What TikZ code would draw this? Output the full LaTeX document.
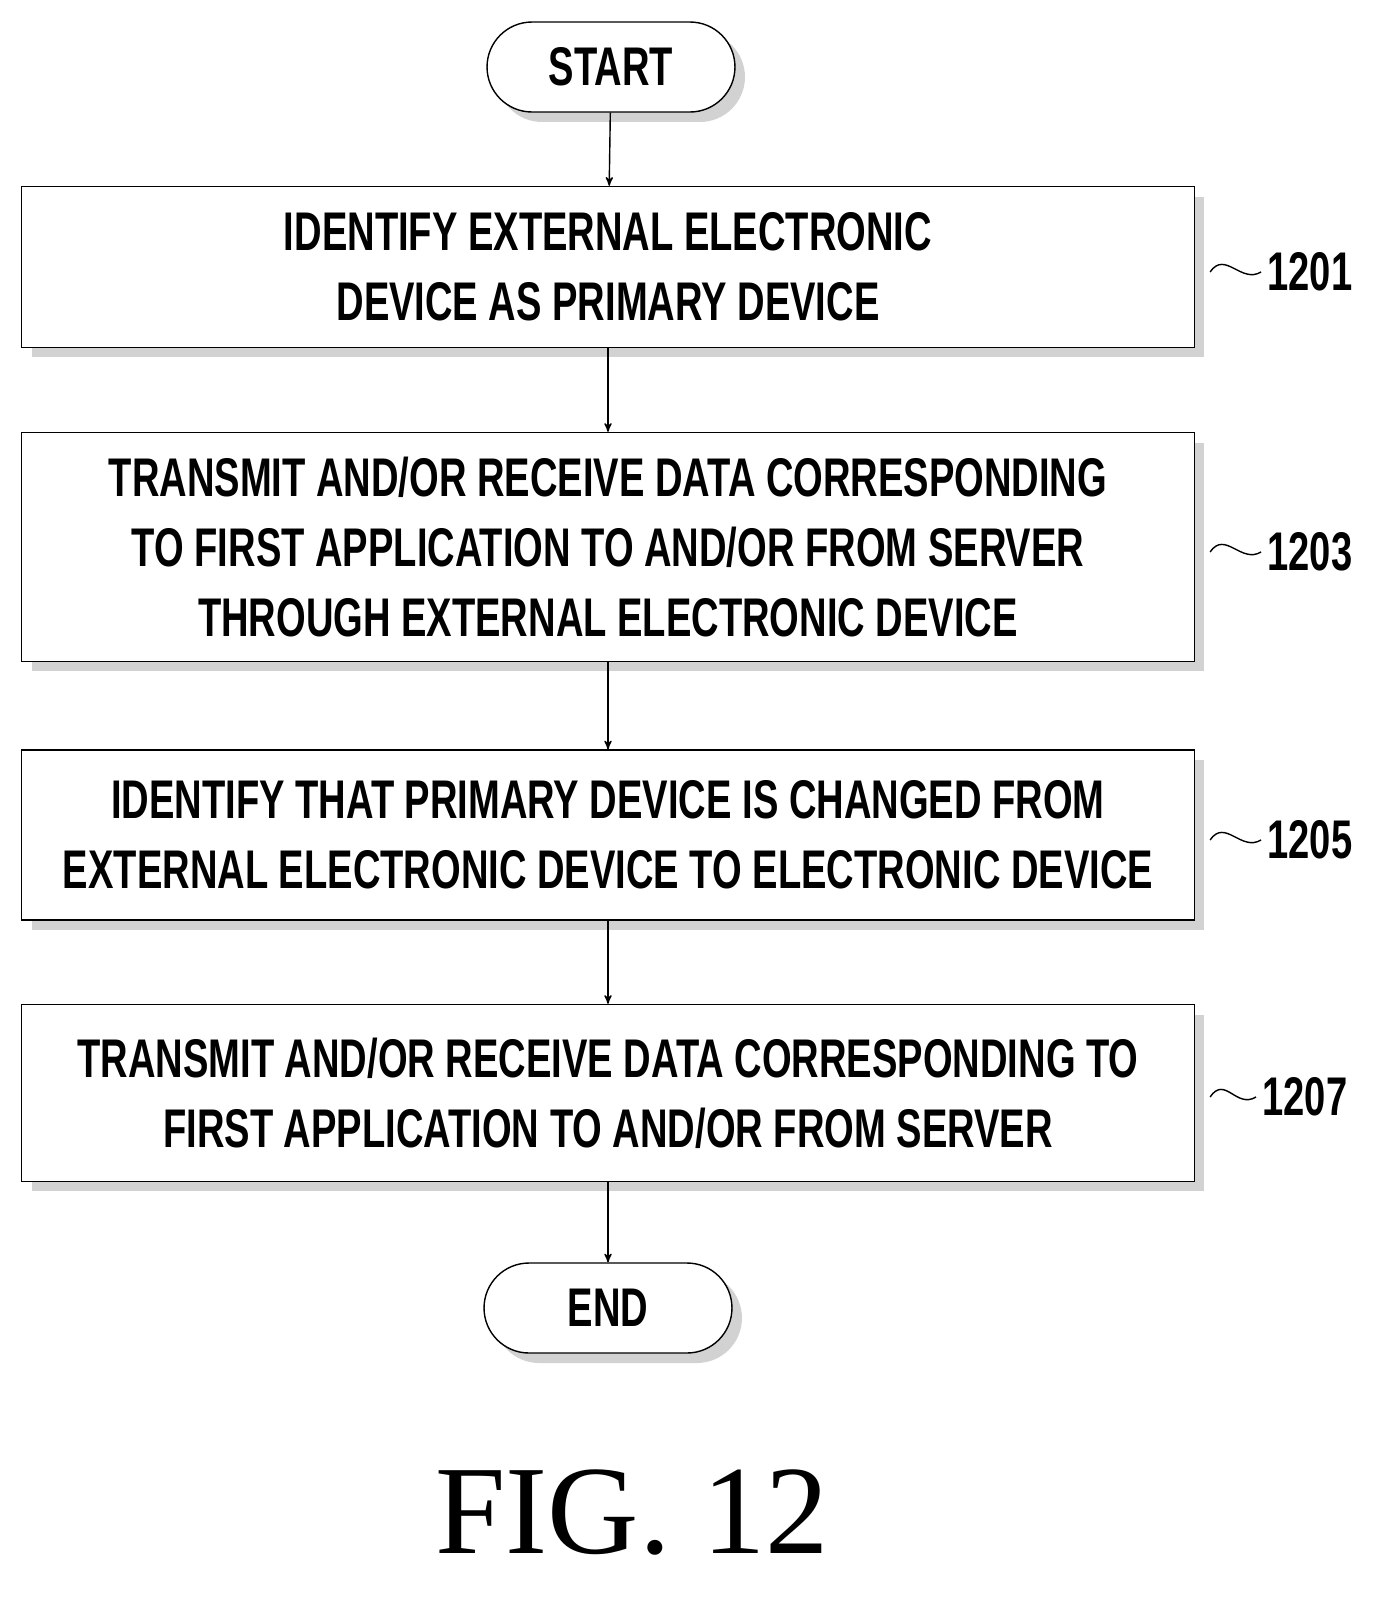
\documentclass[tikz,border=0pt]{standalone}
\usepackage{fontspec}
\setmainfont{Liberation Serif}
\newfontfamily\boxfont{Liberation Sans}[FakeStretch=0.7]
\usetikzlibrary{arrows,shadows}

\begin{document}
\begin{tikzpicture}[x=0.02cm,y=-0.02cm,->,>=stealth',thick]
        \tikzstyle{every node}=[font=\boxfont\bfseries\fontsize{31}{40}\selectfont]
        \tikzstyle{action}=[draw=black,thick,fill=white,align=center,minimum width=23.46cm,
            drop shadow={shadow xshift=0.2cm,shadow yshift=-0.2cm,fill=gray!70}]
        \tikzstyle{term}=[action,rounded corners=0.9cm,minimum width=4.96cm,minimum height=1.8cm]
        \tikzstyle{tag}=[-,thick]

        \useasboundingbox (0,0) rectangle (1399,1597);

        \node[term] (start) at (611,67)  {START};
        \node[action,minimum height=3.22cm] (s1201) at (608,267)  {IDENTIFY EXTERNAL ELECTRONIC\\DEVICE AS PRIMARY DEVICE};
        \node[action,minimum height=4.58cm] (s1203) at (608,547)  {TRANSMIT AND/OR RECEIVE DATA CORRESPONDING\\TO FIRST APPLICATION TO AND/OR FROM SERVER\\THROUGH EXTERNAL ELECTRONIC DEVICE};
        \node[action,minimum height=3.4cm]  (s1205) at (608,835)  {IDENTIFY THAT PRIMARY DEVICE IS CHANGED FROM\\EXTERNAL ELECTRONIC DEVICE TO ELECTRONIC DEVICE};
        \node[action,minimum height=3.54cm] (s1207) at (608,1093) {TRANSMIT AND/OR RECEIVE DATA CORRESPONDING TO\\FIRST APPLICATION TO AND/OR FROM SERVER};
        \node[term] (end) at (608,1308) {END};

        \node (l1201) at (1310,272)  {1201};
        \node (l1203) at (1310,552)  {1203};
        \node (l1205) at (1310,840)  {1205};
        \node (l1207) at (1305,1097) {1207};

        \draw (start) -- (s1201);
        \draw (s1201) -- (s1203);
        \draw (s1203) -- (s1205);
        \draw (s1205) -- (s1207);
        \draw (s1207) -- (end);

        % reference tildes
        \foreach \s/\l in {s1201/l1201,s1203/l1203,s1205/l1205,s1207/l1207}
            \draw[tag] ([xshift=0.3cm]\s.east |- \l.west) .. controls +(15,-22) and +(-20,12) .. (\l.west);

        \node[font=\rmfamily\fontsize{72}{80}\selectfont] (fig) at (632,1512) {FIG. 12};
\end{tikzpicture}
\end{document}
